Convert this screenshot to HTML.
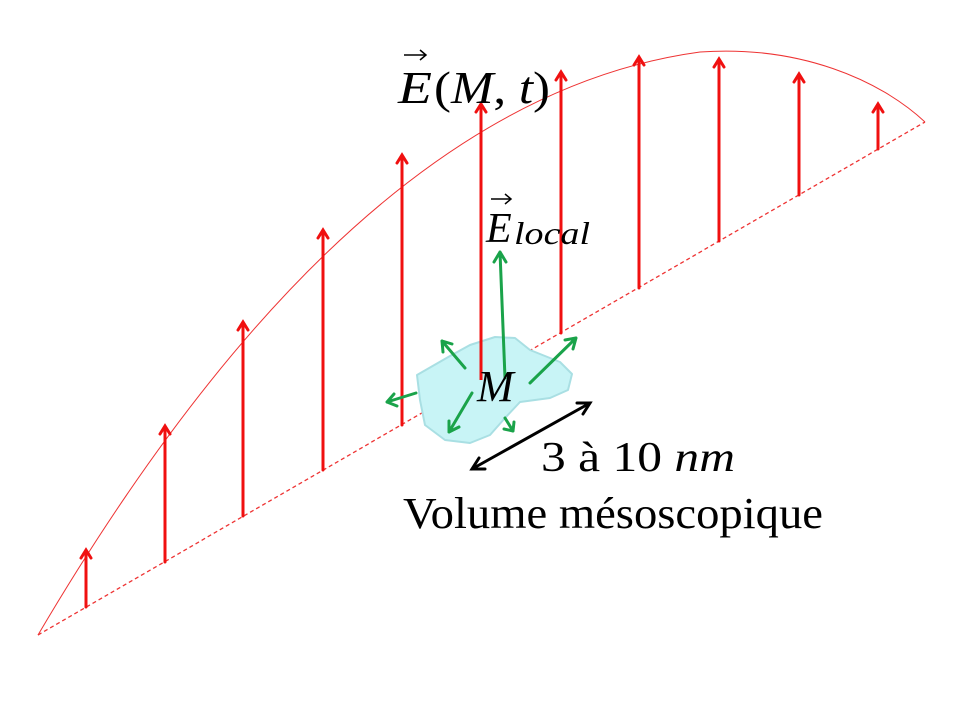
<!DOCTYPE html>
<html><head><meta charset="utf-8"><style>
body{margin:0;background:#fff}
svg text{font-family:"Liberation Serif",serif;fill:#000}
</style></head><body>
<svg width="960" height="720" viewBox="0 0 960 720" xmlns="http://www.w3.org/2000/svg">
<line x1="38" y1="635" x2="925" y2="122" stroke="#e33" stroke-width="1.3" stroke-dasharray="4,3"/>
<path d="M38,635 C200,360 420,90 700,52 C800,45 880,80 925,122" fill="none" stroke="#e33" stroke-width="1"/>
<g stroke="#f01010" stroke-width="3" fill="none" stroke-linecap="round">
<path d="M86,607V550M81,558L86,550L91,558"/>
<path d="M165,562V426M160,434L165,426L170,434"/>
<path d="M243,516V322M238,330L243,322L248,330"/>
<path d="M323,470V230M318,238L323,230L328,238"/>
<path d="M402,425V155M397,163L402,155L407,163"/>
<path d="M481,378V104M476,112L481,104L486,112"/>
<path d="M561,333V72M556,80L561,72L566,80"/>
<path d="M639,288V57M634,65L639,57L644,65"/>
<path d="M719,241V59M714,67L719,59L724,67"/>
<path d="M799,195V74M794,82L799,74L804,82"/>
<path d="M878,149V104M873,112L878,104L883,112"/>
</g>
<path d="M417,375 L450,356 L470,345 L495,337 L515,338 L530,350 L560,362 L572,374 L568,390 L550,398 L520,402 L505,418 L490,435 L470,443 L445,440 L425,425 L420,400 Z" fill="#c8f4f6" stroke="#a9dfe3" stroke-width="2" stroke-linejoin="round"/>
<line x1="481" y1="380" x2="481" y2="340" stroke="#f01010" stroke-width="3"/>
<g stroke="#1aa34a" stroke-width="3" fill="none" stroke-linecap="round" stroke-linejoin="round">
<path d="M505,378L500,252M494,262L500,252L506,262"/>
<path d="M465,368L442,341M443,352L442,341L452,344"/>
<path d="M530,383L576,338M565,340L576,338L573,349"/>
<path d="M416,393L387,402M394,394L387,402L397,406"/>
<path d="M472,393L449,432M449,421L449,432L459,427"/>
<path d="M505,418L513,431M504,429L513,431L514,422"/>
</g>
<g stroke="#000" stroke-width="3" fill="none" stroke-linecap="round">
<path d="M472,469L590,403M577,403L590,403L583,414M485,469L472,469L479,458"/>
</g>
<text x="398" y="103" font-size="46" font-style="italic" textLength="34" lengthAdjust="spacingAndGlyphs">E</text>
<path d="M404,55H425M420,50L426,55L420,60" stroke="#000" stroke-width="1.5" fill="none"/>
<text x="434" y="103" font-size="46" textLength="116" lengthAdjust="spacingAndGlyphs">(<tspan font-style="italic">M</tspan>, <tspan font-style="italic">t</tspan>)</text>
<text x="486" y="242" font-size="42" font-style="italic">E</text>
<path d="M491,199H510M505,194L511,199L505,204" stroke="#000" stroke-width="1.5" fill="none"/>
<text x="514" y="244" font-size="32" font-style="italic" fill="#333" textLength="76" lengthAdjust="spacingAndGlyphs">local</text>
<text x="477" y="401" font-size="44" font-style="italic">M</text>
<text x="541" y="471" font-size="42" textLength="194" lengthAdjust="spacingAndGlyphs">3 à 10 <tspan font-style="italic">nm</tspan></text>
<text x="403" y="528" font-size="44" textLength="420" lengthAdjust="spacingAndGlyphs">Volume mésoscopique</text>
</svg>
</body></html>
